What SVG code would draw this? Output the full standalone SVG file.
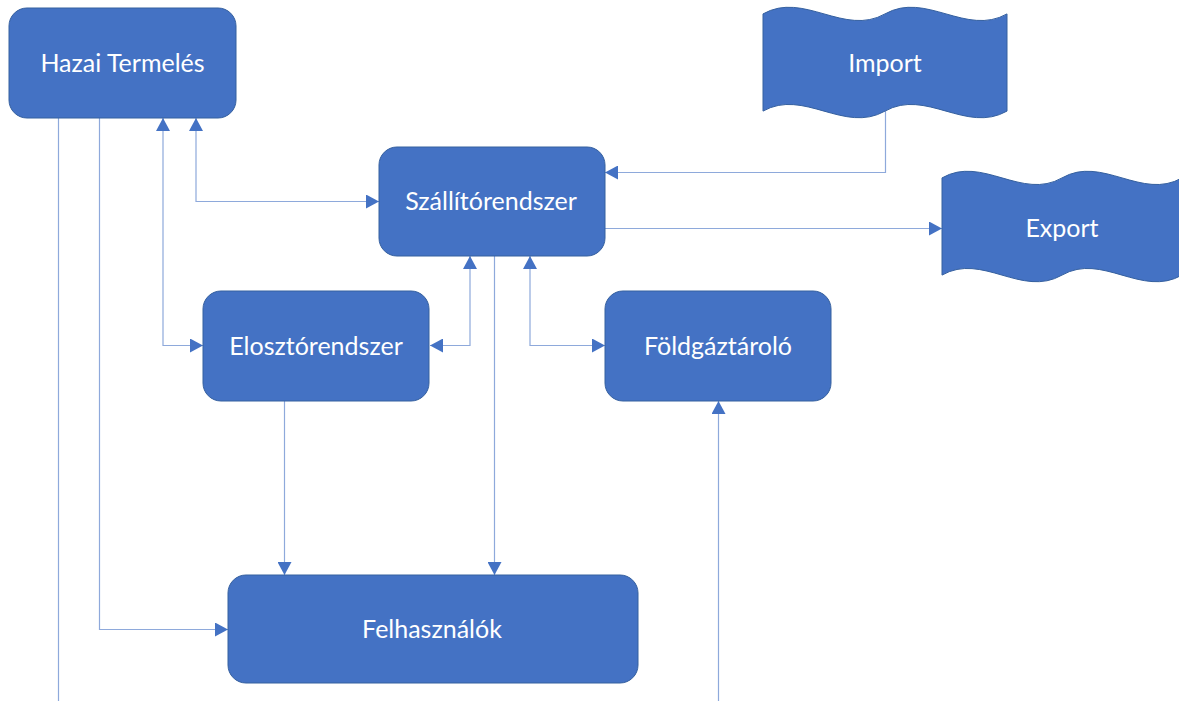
<svg xmlns="http://www.w3.org/2000/svg" width="1179" height="701" viewBox="0 0 1179 701">
  <style>
    .box { fill: #4472C4; stroke: #35609F; stroke-width: 1; }
    .label { fill: #FFFFFF; font-family: Lato, "Open Sans", "Liberation Sans", sans-serif; font-size: 25px; text-anchor: middle; }
    .link { fill: none; stroke: #8EA9DB; stroke-width: 1.2; }
  </style>
  <defs>
    <marker id="arrow" viewBox="0 0 13 14" refX="13" refY="7" markerWidth="13" markerHeight="14" markerUnits="userSpaceOnUse" orient="auto-start-reverse">
      <path d="M0,0 L13,7 L0,14 Z" fill="#4472C4"/>
    </marker>
  </defs>
  <rect width="1179" height="701" fill="#FFFFFF"/>

  <!-- connectors -->
  <g id="connectors">
    <path class="link" d="M58.5,118 V701"/>
    <path class="link" d="M99.5,118 V629.5 H228" marker-end="url(#arrow)"/>
    <path class="link" d="M163,118 V345.5 H203" marker-start="url(#arrow)" marker-end="url(#arrow)"/>
    <path class="link" d="M196,118 V201.5 H379" marker-start="url(#arrow)" marker-end="url(#arrow)"/>
    <path class="link" d="M885.5,111 V172.5 H605" marker-end="url(#arrow)"/>
    <path class="link" d="M605,228.5 H942" marker-end="url(#arrow)"/>
    <path class="link" d="M470,256 V345.5 H430" marker-start="url(#arrow)" marker-end="url(#arrow)"/>
    <path class="link" d="M530,256 V345.5 H605" marker-start="url(#arrow)" marker-end="url(#arrow)"/>
    <path class="link" d="M494.5,256 V575" marker-end="url(#arrow)"/>
    <path class="link" d="M284.5,401 V575" marker-end="url(#arrow)"/>
    <path class="link" d="M718.5,701 V401" marker-end="url(#arrow)"/>
  </g>

  <g id="hazai-termeles">
    <rect class="box" x="9" y="8" width="227" height="110" rx="18"/>
    <text class="label" x="122.5" y="71.5">Hazai Termelés</text>
  </g>

  <g id="import">
    <path class="box" d="M763,13.9 C803.7,-9.1 844.3,36.9 885,13.9 C925.7,-9.1 966.3,36.9 1007,13.9 L1007,111.1 C966.3,134.1 925.7,88.1 885,111.1 C844.3,134.1 803.7,88.1 763,111.1 Z"/>
    <text class="label" x="885" y="71.5">Import</text>
  </g>

  <g id="szallitorendszer">
    <rect class="box" x="379" y="147" width="226" height="109" rx="18"/>
    <text class="label" x="491" y="209.5">Szállítórendszer</text>
  </g>

  <g id="export">
    <path class="box" d="M942,177.9 C982,154.9 1022,200.9 1062,177.9 C1102,154.9 1142,200.9 1182,177.9 L1182,275.1 C1142,298.1 1102,252.1 1062,275.1 C1022,298.1 982,252.1 942,275.1 Z"/>
    <text class="label" x="1062" y="236.5">Export</text>
  </g>

  <g id="elosztorendszer">
    <rect class="box" x="203" y="291" width="226" height="110" rx="18"/>
    <text class="label" x="316" y="354.5">Elosztórendszer</text>
  </g>

  <g id="foldgaztarolo">
    <rect class="box" x="605" y="291" width="226" height="110" rx="18"/>
    <text class="label" x="718" y="354.5">Földgáztároló</text>
  </g>

  <g id="felhasznalok">
    <rect class="box" x="228" y="575" width="410" height="108" rx="18"/>
    <text class="label" x="432" y="637.5">Felhasználók</text>
  </g>
</svg>
